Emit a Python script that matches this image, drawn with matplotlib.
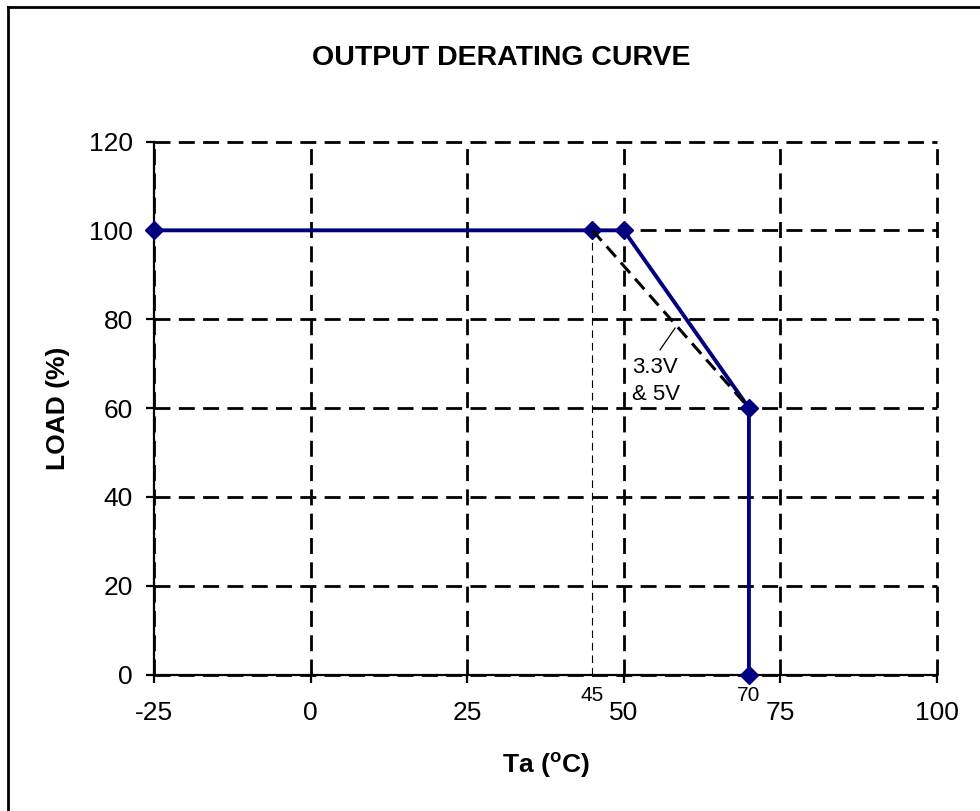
import matplotlib
matplotlib.use("Agg")
import matplotlib.pyplot as plt
from matplotlib.lines import Line2D

plt.rcParams['font.family'] = ['Liberation Sans', 'DejaVu Sans']
plt.rcParams['mathtext.fontset'] = 'custom'
plt.rcParams['mathtext.rm'] = 'Liberation Sans'
plt.rcParams['mathtext.bf'] = 'Liberation Sans:bold'
plt.rcParams['lines.scale_dashes'] = False
plt.rcParams['axes.unicode_minus'] = False

# derating curve (all outputs)
temp_main = [-25, 50, 70, 70]
load_main = [100, 100, 60, 0]

# 3.3V & 5V outputs derate earlier
temp_low = [45, 70]
load_low = [100, 60]

x_ticks = [-25, 0, 25, 50, 75, 100]
y_ticks = [0, 20, 40, 60, 80, 100, 120]
marked_temps = [45, 70]

navy = "#000080"

fig = plt.figure(figsize=(9.8, 8.11), dpi=100)
ax = fig.add_axes([154.3 / 980, 1 - 674.5 / 811, 782.4 / 980, 533 / 811])

# frame around the whole chart (runs off the right and bottom edges)
fig.add_artist(Line2D([8 / 980, 8 / 980], [1 - 7 / 811, -0.1],
                      transform=fig.transFigure, color="black", lw=2.0))
fig.add_artist(Line2D([8 / 980, 1.1], [1 - 7 / 811, 1 - 7 / 811],
                      transform=fig.transFigure, color="black", lw=2.0))

ax.set_xlim(x_ticks[0], x_ticks[-1])
ax.set_ylim(y_ticks[0], y_ticks[-1])
ax.set_xticks(x_ticks)
ax.set_yticks(y_ticks)

ax.grid(True, color="black", linewidth=2.0, linestyle=(0, (11.5, 6.0)))
for gl in ax.get_xgridlines() + ax.get_ygridlines():
    gl.set_clip_on(False)
ax.set_axisbelow(True)

for side in ("top", "right"):
    ax.spines[side].set_visible(False)
for side in ("left", "bottom"):
    ax.spines[side].set_linewidth(1.6)
    ax.spines[side].set_zorder(3)

ax.tick_params(direction="out", length=5.8, width=1.6, labelsize=19,
               colors="black")
ax.tick_params(axis="x", pad=13)
ax.tick_params(axis="y", pad=9.5)

# thin marker line at 45 degC
ax.plot([temp_low[0], temp_low[0]], [0, load_low[0]], color="black",
        lw=0.8, linestyle=(0, (5.5, 3.5)), zorder=2)

ax.plot(temp_main, load_main, color=navy, lw=2.8, marker="D",
        markersize=9, zorder=4, clip_on=False)
ax.plot(temp_low[:1], load_low[:1], color=navy, linestyle="none", marker="D",
        markersize=9, zorder=4, clip_on=False)
ax.plot(temp_low, load_low, color="black", lw=2.2,
        linestyle=(0, (10, 5.5)), zorder=5)

# label for the 3.3V & 5V line
ax.plot([55.8, 58.2], [73.1, 78.0], color="black", lw=0.9, zorder=5)
ax.text(51.3, 67.9, "3.3V", fontsize=16, va="baseline", ha="left")
ax.text(51.3, 61.8, "& 5V", fontsize=16, va="baseline", ha="left")

for t in marked_temps:
    ax.annotate(str(t), xy=(t, 0), xycoords=("data", "axes fraction"),
                xytext=(0, -14.8), textcoords="offset points",
                ha="center", va="center", fontsize=15)

ax.set_xlabel(r"Ta (${}^{\mathbf{o}}$C)", fontsize=19, fontweight="bold",
              va="center")
ax.xaxis.set_label_coords(0.5, (674.5 - 765) / 533)
ax.set_ylabel("LOAD (%)", fontsize=19, fontweight="bold", va="center")
ax.yaxis.set_label_coords((58.5 - 154.3) / 782.4, 0.5)

fig.text(501 / 980, 1 - 58 / 811, "OUTPUT DERATING CURVE", ha="center",
         va="center", fontsize=20.5, fontweight="bold")

fig.savefig("out.png", dpi=100)
